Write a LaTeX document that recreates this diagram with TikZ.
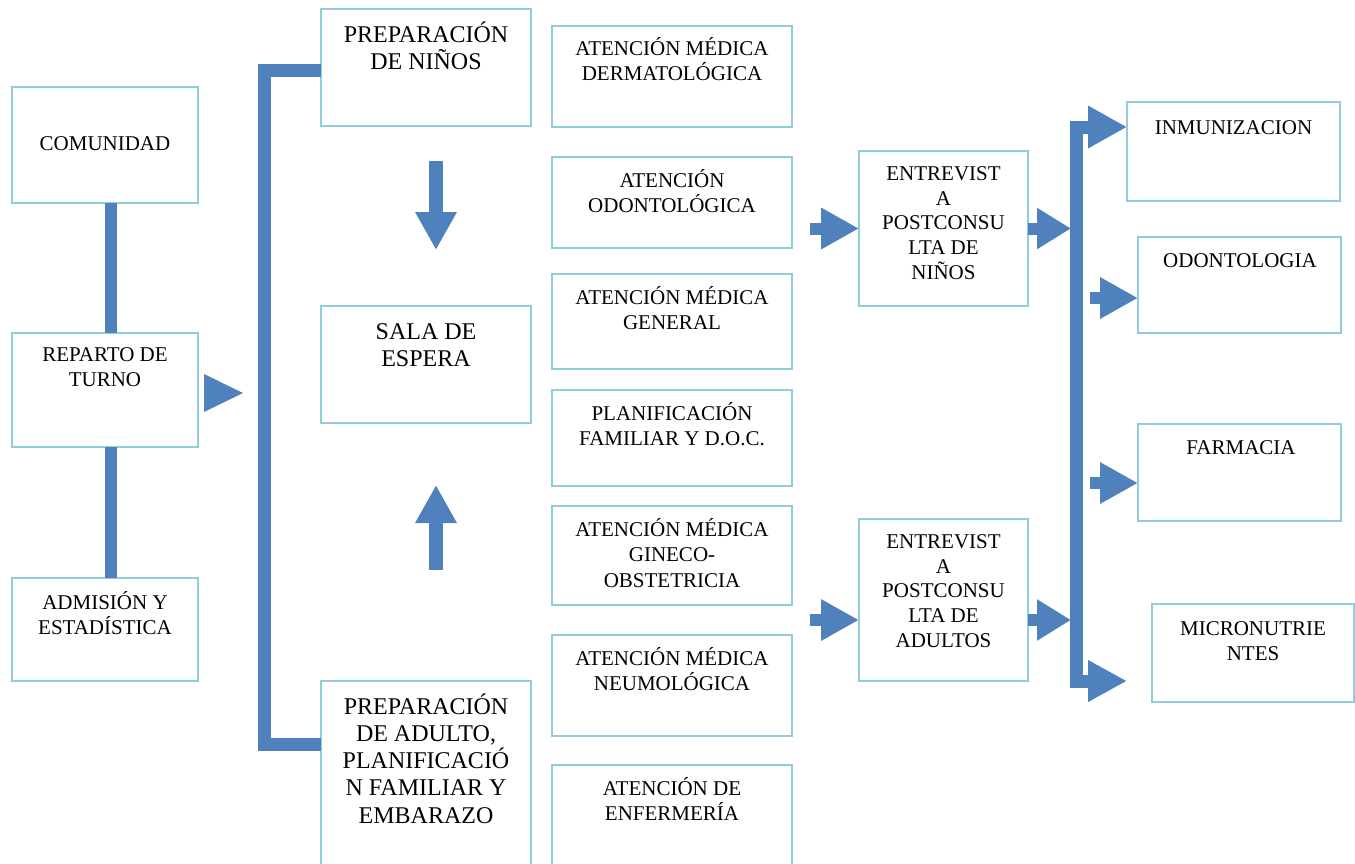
\documentclass[tikz,border=0pt]{standalone}
\usepackage{fontspec}
\setmainfont{Liberation Serif}
\usetikzlibrary{arrows.meta}
\definecolor{boxline}{RGB}{146,205,220}
\definecolor{flow}{RGB}{79,129,189}
\tikzset{
  box/.style={draw=boxline, line width=2.5pt, inner sep=0pt, outer sep=0pt},
  % text nodes are placed by the baseline of their last line
  txt/.style={anchor=base, align=center, inner sep=0pt, font=\fontsize{21}{25.5}\selectfont},
  bigtxt/.style={txt, font=\fontsize{24}{27.3}\selectfont},
  bar/.style={draw=flow, line width=13pt},
  blk/.style={draw=flow, line width=#1, -{Triangle[width=39pt,length=38pt]}},
  blk/.default=12pt,
}
\begin{document}
\begin{tikzpicture}[x=1pt,y=-1pt]
\useasboundingbox (0,0) rectangle (1355,863);

% left column
\node[box, minimum width=186, minimum height=116] (com) at (105,145) {};
\node[box, minimum width=186, minimum height=114] (rep) at (105,390) {};
\node[box, minimum width=186, minimum height=103] (adm) at (105,629.5) {};
\node[txt] (comT) at (105,150) {COMUNIDAD};
\node[txt] (repT) at (105,386.5) {REPARTO DE\\TURNO};
\node[txt] (admT) at (105,634.5) {ADMISIÓN Y\\ESTADÍSTICA};
\draw[bar, line width=12pt] ([xshift=6pt]com.south) -- ([xshift=6pt]rep.north);
\draw[bar, line width=12pt] ([xshift=6pt]rep.south) -- ([xshift=6pt]adm.north);
\fill[flow] (204,374) coordinate (tA) -- (243,393) coordinate (tB) -- (204,412) coordinate (tC) -- cycle;

% preparation and waiting room
\node[box, minimum width=210, minimum height=117] (pn) at (426,67.5) {};
\node[box, minimum width=210, minimum height=117] (sala) at (426,364.5) {};
\node[box, minimum width=210, minimum height=199] (pa) at (426,780.5) {};
\node[bigtxt] (pnT) at (426,69.3) {PREPARACIÓN\\DE NIÑOS};
\node[bigtxt] (salaT) at (426,366.3) {SALA DE\\ESPERA};
\node[bigtxt] (paT) at (426,823.2) {PREPARACIÓN\\DE ADULTO,\\PLANIFICACIÓ\\N FAMILIAR Y\\EMBARAZO};
\coordinate (bkTop) at (264,70);
\coordinate (bkBot) at (264,744);
\draw[bar] (pn.west |- bkTop) -- (bkTop) -- (bkBot) -- (pa.west |- bkBot);
\coordinate (dnA) at (436,161);
\coordinate (dnB) at (436,250);
\coordinate (upA) at (436,570);
\coordinate (upB) at (436,485);
\draw[blk=14pt] (dnA) -- (dnB);
\draw[blk=14pt] (upA) -- (upB);

% consultation services
\node[box, minimum width=240, minimum height=101] (m1) at (672,76.5) {};
\node[box, minimum width=240, minimum height=91]  (m2) at (672,202.5) {};
\node[box, minimum width=240, minimum height=95]  (m3) at (672,321.5) {};
\node[box, minimum width=240, minimum height=96]  (m4) at (672,438) {};
\node[box, minimum width=240, minimum height=99]  (m5) at (672,555.5) {};
\node[box, minimum width=240, minimum height=101] (m6) at (672,685.5) {};
\node[box, minimum width=240, minimum height=115] (m7) at (672,822.5) {};
\node[txt] (m1T) at (672,80.5)  {ATENCIÓN MÉDICA\\DERMATOLÓGICA};
\node[txt] (m2T) at (672,212.5) {ATENCIÓN\\ODONTOLÓGICA};
\node[txt] (m3T) at (672,329.5) {ATENCIÓN MÉDICA\\GENERAL};
\node[txt] (m4T) at (672,445.5) {PLANIFICACIÓN\\FAMILIAR Y D.O.C.};
\node[txt] (m5T) at (672,587)   {ATENCIÓN MÉDICA\\GINECO-\\OBSTETRICIA};
\node[txt] (m6T) at (672,690.5) {ATENCIÓN MÉDICA\\NEUMOLÓGICA};
\node[txt] (m7T) at (672,820.5) {ATENCIÓN DE\\ENFERMERÍA};

% post-consultation interviews
\node[box, minimum width=169, minimum height=155] (e1) at (943.5,228.5) {};
\node[box, minimum width=169, minimum height=162] (e2) at (943.5,600) {};
\node[txt, font=\fontsize{21}{24.8}\selectfont] (e1T) at (943.5,279.5) {ENTREVIST\\A\\POSTCONSU\\LTA DE\\NIÑOS};
\node[txt, font=\fontsize{21}{24.8}\selectfont] (e2T) at (943.5,647.5) {ENTREVIST\\A\\POSTCONSU\\LTA DE\\ADULTOS};
\coordinate (in1) at (810,228.5);
\coordinate (in2) at (810,620);
\draw[blk] (in1) -- (e1.west);
\draw[blk] (in2) -- (e2.west |- in2);
\coordinate (out1) at (1071,228.5);
\coordinate (out2) at (1071,620);
\draw[blk, -{Triangle[width=39pt,length=34pt]}] (e1.east) -- (out1);
\draw[blk, -{Triangle[width=39pt,length=34pt]}] (e2.east |- out2) -- (out2);

% final services
\node[box, minimum width=213, minimum height=99] (r1) at (1233.5,151.5) {};
\node[box, minimum width=203, minimum height=96] (r2) at (1239.5,285) {};
\node[box, minimum width=203, minimum height=97] (r3) at (1239.5,472.5) {};
\node[box, minimum width=202, minimum height=98] (r4) at (1253,653) {};
\node[txt] (r1T) at (1233.5,134) {INMUNIZACION};
\node[txt] (r2T) at (1240,267) {ODONTOLOGIA};
\node[txt] (r3T) at (1241,454) {FARMACIA};
\node[txt] (r4T) at (1253,660.5) {MICRONUTRIE\\NTES};
\coordinate (rTop) at (1127,127);
\coordinate (rBot) at (1127,681);
\draw[bar, {Triangle[width=40pt,length=39pt]}-{Triangle[width=39pt,length=39pt]}]
  (rTop) -| (1076.5,681) -- (rBot);
\coordinate (s2) at (1090,298);
\coordinate (s3) at (1090,483);
\draw[blk] (s2) -- (r2.west |- s2);
\draw[blk] (s3) -- (r3.west |- s3);
\end{tikzpicture}
\end{document}
